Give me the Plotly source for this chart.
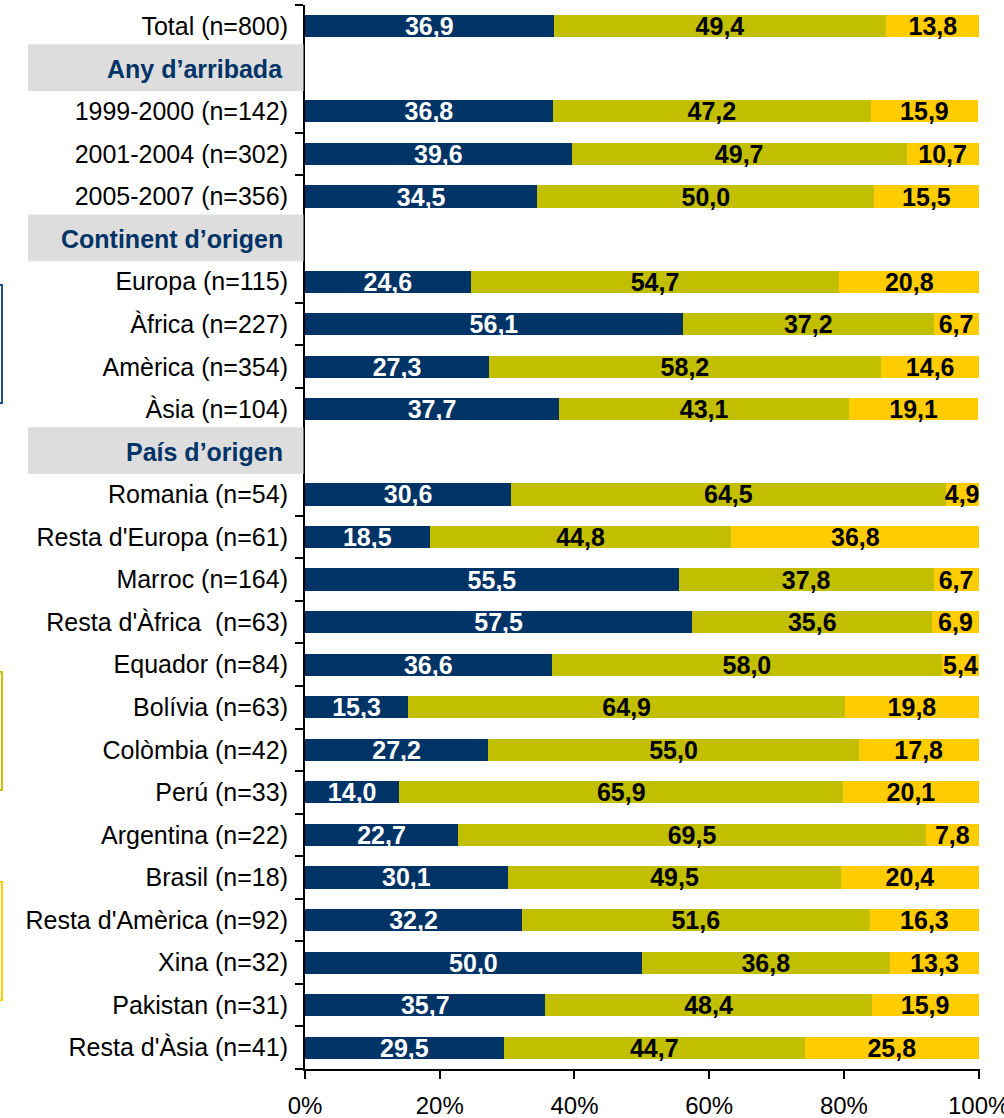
import plotly.graph_objects as go

# rows, top to bottom (header rows have no bars)
labels = [
    "Total (n=800)",
    "Any d’arribada",
    "1999-2000 (n=142)", "2001-2004 (n=302)", "2005-2007 (n=356)",
    "Continent d’origen",
    "Europa (n=115)", "Àfrica (n=227)", "Amèrica (n=354)", "Àsia (n=104)",
    "País d’origen",
    "Romania (n=54)", "Resta d'Europa (n=61)", "Marroc (n=164)", "Resta d'Àfrica  (n=63)",
    "Equador (n=84)", "Bolívia (n=63)", "Colòmbia (n=42)", "Perú (n=33)",
    "Argentina (n=22)", "Brasil (n=18)", "Resta d'Amèrica (n=92)",
    "Xina (n=32)", "Pakistan (n=31)", "Resta d'Àsia (n=41)",
]
headers = ["Any d’arribada", "Continent d’origen", "País d’origen"]

serie1 = [36.9, None, 36.8, 39.6, 34.5, None, 24.6, 56.1, 27.3, 37.7, None,
          30.6, 18.5, 55.5, 57.5, 36.6, 15.3, 27.2, 14.0, 22.7, 30.1, 32.2, 50.0, 35.7, 29.5]
serie2 = [49.4, None, 47.2, 49.7, 50.0, None, 54.7, 37.2, 58.2, 43.1, None,
          64.5, 44.8, 37.8, 35.6, 58.0, 64.9, 55.0, 65.9, 69.5, 49.5, 51.6, 36.8, 48.4, 44.7]
serie3 = [13.8, None, 15.9, 10.7, 15.5, None, 20.8, 6.7, 14.6, 19.1, None,
          4.9, 36.8, 6.7, 6.9, 5.4, 19.8, 17.8, 20.1, 7.8, 20.4, 16.3, 13.3, 15.9, 25.8]

xticks = [0, 20, 40, 60, 80, 100]
xticktext = ["0%", "20%", "40%", "60%", "80%", "100%"]

navy = "#003366"
olive = "#C2BF00"
gold = "#FFCC00"
font = "Arial, 'Liberation Sans', sans-serif"

fig = go.Figure()
for vals, col, txtcol in [(serie1, navy, "white"), (serie2, olive, "black"), (serie3, gold, "black")]:
    fig.add_trace(go.Bar(
        y=labels, x=vals, orientation="h",
        marker=dict(color=col, line=dict(width=0)),
        texttemplate="<b>%{x:.1f}</b>", textposition="inside",
        insidetextanchor="middle", textangle=0, constraintext="none",
        textfont=dict(family=font, size=25, color=txtcol),
        cliponaxis=False, showlegend=False, hoverinfo="skip",
    ))

ticktext = ["" if l in headers else l for l in labels]

fig.update_layout(
    barmode="stack", bargap=0.48,
    separators=",.",
    width=1004, height=1118,
    margin=dict(l=305, r=24, t=5, b=49),
    plot_bgcolor="white", paper_bgcolor="white",
    font=dict(family=font, size=25, color="black"),
    xaxis=dict(range=[0, 100.2], tickvals=xticks, ticktext=xticktext,
               ticks="outside", ticklen=8, tickcolor="black", tickwidth=2,
               showline=True, linecolor="black", linewidth=2,
               showgrid=False, zeroline=False, automargin=False,
               ticklabeloverflow="allow",
               tickfont=dict(size=24), ticklabelstandoff=6),
    yaxis=dict(type="category", categoryorder="array", categoryarray=labels,
               autorange="reversed", tickmode="array", tickvals=labels, ticktext=ticktext,
               tickson="boundaries", ticks="outside", ticklen=8, tickcolor="black", tickwidth=2,
               showline=True, linecolor="black", linewidth=2, showgrid=False,
               automargin=False, tickfont=dict(size=25), ticklabelstandoff=10),
)

# grey header boxes with bold navy text
for h in headers:
    i = labels.index(h)
    fig.add_shape(type="rect", xref="paper", yref="y",
                  x0=(28 - 305) / 675, x1=-1.5 / 675, y0=i - 0.58, y1=i + 0.52,
                  fillcolor="#DDDDDD", line=dict(width=0), layer="above")
    fig.add_annotation(x=(285 - 305) / 675, xref="paper", y=h, yref="y",
                       text="<b>" + h + "</b>", showarrow=False, xanchor="right",
                       font=dict(family=font, size=25, color=navy))

# partly visible boxes at the left edge
for y0, y1, col in [(403, 285, "#1F4E8C"), (790, 672, "#C8C000"), (1000, 882, gold)]:
    fig.add_shape(type="rect", xref="paper", yref="paper",
                  x0=(-10 - 305) / 675, x1=(2 - 305) / 675,
                  y0=(1069 - y0) / 1064, y1=(1069 - y1) / 1064,
                  line=dict(color=col, width=2), fillcolor="rgba(0,0,0,0)")

fig.write_html("out.html", config={"displayModeBar": False},
               post_script="document.body.style.margin='0';document.body.style.overflow='hidden';")
